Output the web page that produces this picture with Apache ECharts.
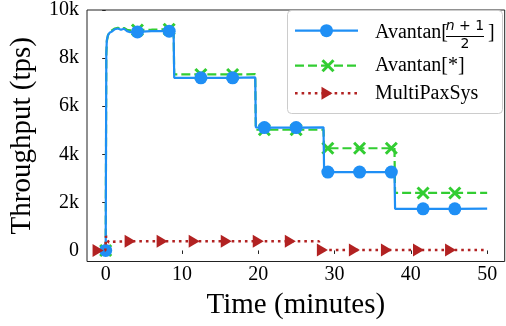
<!DOCTYPE html>
<html>
<head>
<meta charset="utf-8">
<script src="https://cdn.jsdelivr.net/npm/echarts@6/dist/echarts.min.js"></script>
<style>
  html, body { margin: 0; padding: 0; background: #fff; }
  #chart { width: 506px; height: 326px; }
</style>
</head>
<body>
<div id="chart"></div>
<script>
// Throughput over time (minutes) for three configurations.
const tBlue = [0, 0.08, 0.15, 0.3, 0.5, 0.8, 1.2, 1.6, 2.0, 2.4, 2.8, 3.2, 3.6, 4.16, 6.0, 8.32, 8.9, 8.98,
  12.48, 16.64, 19.6, 19.68, 20.8, 24.96, 28.55, 28.63, 29.12, 33.28, 37.44, 37.85, 37.93, 41.6, 45.76, 50];
const vBlue = [0, 8200, 8750, 8950, 9050, 9100, 9200, 9230, 9180, 9220, 9120, 9080, 9100, 9090, 9120, 9120, 9150, 7180,
  7180, 7180, 7200, 5120, 5110, 5110, 5120, 3260, 3260, 3260, 3260, 3270, 1730, 1730, 1730, 1740];
const markBlue = [0, 4.16, 8.32, 12.48, 16.64, 20.8, 24.96, 29.12, 33.28, 37.44, 41.6, 45.76];

const tGreen = [0, 0.08, 0.15, 0.3, 0.5, 0.8, 1.2, 1.6, 2.0, 2.4, 2.8, 3.2, 3.6, 4.16, 6.0, 8.32, 8.9, 8.98,
  12.48, 16.64, 19.6, 19.68, 20.8, 24.96, 28.55, 28.63, 29.12, 33.28, 37.44, 37.85, 37.93, 41.6, 45.76, 50];
const vGreen = [0, 8100, 8700, 8950, 9080, 9150, 9230, 9260, 9200, 9250, 9180, 9150, 9160, 9170, 9180, 9200, 9220, 7320,
  7320, 7320, 7330, 5020, 5020, 5020, 5020, 4250, 4250, 4250, 4250, 4260, 2390, 2390, 2390, 2390];
const markGreen = [0, 4.16, 8.32, 12.48, 16.64, 20.8, 24.96, 29.12, 33.28, 37.44, 41.6, 45.76];

const tRed = [-1, -0.05, 0.05, 0.2, 0.4, 0.8, 1.5, 3.2, 7.4, 11.6, 15.8, 20.0, 24.2, 27.95, 28.03, 28.4, 32.6, 36.8, 41.0, 45.2, 50];
const vRed = [0, 0, 600, 450, 330, 360, 370, 380, 380, 380, 380, 380, 380, 380, 20, 20, 20, 20, 20, 20, 20];
const markRed = [-1, 3.2, 7.4, 11.6, 15.8, 20.0, 24.2, 28.4, 32.6, 36.8, 41.0, 45.2];

const xTicks = [0, 10, 20, 30, 40, 50];
const yTicks = [0, 2000, 4000, 6000, 8000, 10000];
const seriesNames = ['Avantan[(n+1)/2]', 'Avantan[*]', 'MultiPaxSys'];

const BLUE = '#1f8ff5';
const GREEN = '#32cd32';
const RED = '#b22222';
const SERIF = "'Liberation Serif', 'Times New Roman', serif";
const X_PATH = 'path://M0,0 L10,10 M10,0 L0,10';
const TRI_PATH = 'path://M0,0 L10,5 L0,10 Z';

function buildData(ts, vs, marks, symbol) {
  return ts.map((t, i) => {
    const isMark = marks.some(m => Math.abs(m - t) < 1e-6);
    return { value: [t, vs[i]], symbol: isMark ? symbol : 'none' };
  });
}

const chart = echarts.init(document.getElementById('chart'), null, { renderer: 'canvas' });

// Legend drawn as graphic elements (line sample, marker, label)
const LX0 = 295, LX1 = 358, LMX = 326.5, TX = 375;
const rowY = [30.7, 65.7, 93.3];
const XS = 5.5;
const legendGraphics = [
  { type: 'rect', shape: { x: 287.5, y: 10.5, width: 215, height: 103, r: 4 },
    style: { fill: 'rgba(255,255,255,0.85)', stroke: '#cccccc', lineWidth: 1 }, z: 100 },
  // row 1
  { type: 'line', shape: { x1: LX0, y1: rowY[0], x2: LX1, y2: rowY[0] },
    style: { stroke: BLUE, lineWidth: 2.2 }, z: 101 },
  { type: 'circle', shape: { cx: LMX, cy: rowY[0], r: 6.5 }, style: { fill: BLUE }, z: 102 },
  { type: 'text', x: TX, y: rowY[0] + 2.5, style: { text: 'Avantan[', font: '20px ' + SERIF,
    fill: '#000', verticalAlign: 'middle', align: 'left' }, z: 102 },
  { type: 'text', x: 465, y: 26.5, style: { text: '{i|n} + 1', fill: '#000', align: 'center', verticalAlign: 'middle',
    font: "14px 'DejaVu Sans', sans-serif",
    rich: { i: { fontStyle: 'italic', fontFamily: "'DejaVu Sans', sans-serif", fontSize: 14 } } }, z: 102 },
  { type: 'line', shape: { x1: 446, y1: 36.5, x2: 484, y2: 36.5 }, style: { stroke: '#000', lineWidth: 1 }, z: 102 },
  { type: 'text', x: 465, y: 44, style: { text: '2', font: "14px 'DejaVu Sans', sans-serif", fill: '#000',
    align: 'center', verticalAlign: 'middle' }, z: 102 },
  { type: 'text', x: 488, y: rowY[0] + 2.5, style: { text: ']', font: '20px ' + SERIF, fill: '#000',
    verticalAlign: 'middle', align: 'left' }, z: 102 },
  // row 2
  { type: 'line', shape: { x1: LX0, y1: rowY[1], x2: LX1, y2: rowY[1] },
    style: { stroke: GREEN, lineWidth: 2.2, lineDash: [9, 4] }, z: 101 },
  { type: 'line', shape: { x1: LMX + 1.5 - XS, y1: rowY[1] - XS, x2: LMX + 1.5 + XS, y2: rowY[1] + XS },
    style: { stroke: GREEN, lineWidth: 3 }, z: 102 },
  { type: 'line', shape: { x1: LMX + 1.5 + XS, y1: rowY[1] - XS, x2: LMX + 1.5 - XS, y2: rowY[1] + XS },
    style: { stroke: GREEN, lineWidth: 3 }, z: 102 },
  { type: 'text', x: TX, y: rowY[1], style: { text: 'Avantan[*]', font: '20px ' + SERIF, fill: '#000',
    verticalAlign: 'middle', align: 'left' }, z: 102 },
  // row 3
  { type: 'line', shape: { x1: LX0, y1: rowY[2], x2: LX1, y2: rowY[2] },
    style: { stroke: RED, lineWidth: 2.5, lineDash: [2.6, 4] }, z: 101 },
  { type: 'polygon', shape: { points: [[LMX - 5, rowY[2] - 6.5], [LMX + 6, rowY[2]], [LMX - 5, rowY[2] + 6.5]] },
    style: { fill: RED }, z: 102 },
  { type: 'text', x: TX, y: rowY[2], style: { text: 'MultiPaxSys', font: '20px ' + SERIF, fill: '#000',
    verticalAlign: 'middle', align: 'left' }, z: 102 }
];

const axisColor = '#222';

chart.setOption({
  animation: false,
  backgroundColor: '#fff',
  grid: { left: 84.7, right: 1.3, top: 6, bottom: 64.5, show: true, borderColor: axisColor, borderWidth: 1,
    backgroundColor: 'transparent' },
  xAxis: {
    type: 'value', min: -2.45, max: 52.3,
    name: 'Time (minutes)', nameLocation: 'middle', nameGap: 29,
    nameTextStyle: { fontFamily: SERIF, fontSize: 29, color: '#000' },
    axisLine: { show: false },
    axisTick: { show: true, inside: false, length: 3.5, customValues: xTicks, lineStyle: { color: axisColor, width: 1 } },
    axisLabel: { customValues: xTicks, fontFamily: SERIF, fontSize: 20, color: '#000', margin: 3 },
    splitLine: { show: false }
  },
  yAxis: {
    type: 'value', min: -460, max: 10000,
    name: 'Throughput (tps)', nameLocation: 'middle', nameGap: 50,
    nameTextStyle: { fontFamily: SERIF, fontSize: 29, color: '#000' },
    axisLine: { show: false },
    axisTick: { show: true, inside: false, length: 3.5, customValues: yTicks, lineStyle: { color: axisColor, width: 1 } },
    axisLabel: { customValues: yTicks, fontFamily: SERIF, fontSize: 20, color: '#000', margin: 8,
      formatter: v => v === 0 ? '0' : (v / 1000) + 'k' },
    splitLine: { show: false }
  },
  series: [
    {
      name: seriesNames[1], type: 'line', z: 2,
      data: buildData(tGreen, vGreen, markGreen, X_PATH),
      showSymbol: true, symbolSize: 11,
      lineStyle: { color: GREEN, width: 2.2, type: [9, 4] },
      itemStyle: { color: GREEN, borderColor: GREEN, borderWidth: 3 },
      emphasis: { disabled: true }
    },
    {
      name: seriesNames[0], type: 'line', z: 3,
      data: buildData(tBlue, vBlue, markBlue, 'circle'),
      showSymbol: true, symbolSize: 13,
      lineStyle: { color: BLUE, width: 2.2 },
      itemStyle: { color: BLUE, borderWidth: 0 },
      emphasis: { disabled: true }
    },
    {
      name: seriesNames[2], type: 'line', z: 4,
      data: buildData(tRed, vRed, markRed, TRI_PATH),
      showSymbol: true, symbolSize: [11, 13],
      lineStyle: { color: RED, width: 2.6, type: [2.6, 4] },
      itemStyle: { color: RED, borderWidth: 0 },
      emphasis: { disabled: true }
    }
  ],
  graphic: legendGraphics
});
</script>
</body>
</html>
